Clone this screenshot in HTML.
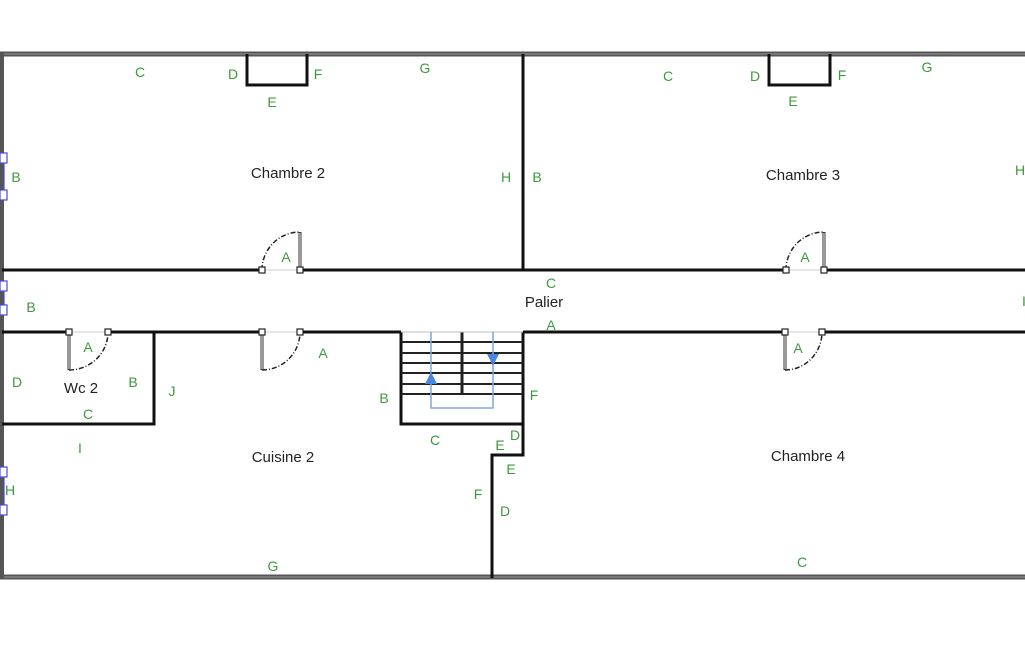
<!DOCTYPE html>
<html><head><meta charset="utf-8"><style>
html,body{margin:0;padding:0;background:#fff;}
svg{display:block}
text{font-family:"Liberation Sans","DejaVu Sans",sans-serif;}
.g{fill:#3c9a3c;font-size:14px;text-anchor:middle}
.r{fill:#222;font-size:15px;text-anchor:middle}
</style></head><body>
<svg width="1025" height="650" viewBox="0 0 1025 650" xmlns="http://www.w3.org/2000/svg">
<rect width="1025" height="650" fill="#fff"/>
<!-- outer walls -->
<line x1="0" y1="54" x2="1025" y2="54" stroke="#555" stroke-width="5"/>
<line x1="0" y1="54" x2="1025" y2="54" stroke="#999" stroke-width="1"/>
<line x1="0" y1="577" x2="1025" y2="577" stroke="#555" stroke-width="5"/>
<line x1="0" y1="577" x2="1025" y2="577" stroke="#999" stroke-width="1"/>
<line x1="2" y1="52" x2="2" y2="579" stroke="#555" stroke-width="4"/>
<g stroke="#111" stroke-width="3" fill="none">
<!-- corridor walls -->
<line x1="2" y1="270" x2="262" y2="270"/>
<line x1="300" y1="270" x2="786" y2="270"/>
<line x1="824" y1="270" x2="1025" y2="270"/>
<line x1="2" y1="332" x2="69" y2="332"/>
<line x1="108" y1="332" x2="262" y2="332"/>
<line x1="300" y1="332" x2="401" y2="332"/>
<line x1="523" y1="332" x2="785" y2="332"/>
<line x1="822" y1="332" x2="1025" y2="332"/>
<line x1="523" y1="54" x2="523" y2="270"/>
<!-- closets -->
<polyline points="247,54 247,85 307,85 307,54"/>
<polyline points="769,54 769,85 830,85 830,54"/>
<!-- wc -->
<polyline points="2,424 154,424 154,332"/>
<!-- stairs -->
<polyline points="401,332 401,424 523,424 523,455 492,455 492,578"/>
<line x1="523" y1="332" x2="523" y2="424"/>
</g>
<g stroke="#222" stroke-width="2">
<line x1="401" y1="342" x2="523" y2="342"/><line x1="401" y1="353" x2="523" y2="353"/>
<line x1="401" y1="363" x2="523" y2="363"/><line x1="401" y1="373" x2="523" y2="373"/>
<line x1="401" y1="384" x2="523" y2="384"/><line x1="401" y1="394" x2="523" y2="394"/>
<line x1="462" y1="332" x2="462" y2="394" stroke-width="3"/>
</g>
<line x1="401" y1="332" x2="523" y2="332" stroke="#bbb" stroke-width="1"/>
<polyline points="431,332 431,408 493,408 493,332" fill="none" stroke="#7ea6e0" stroke-width="1.5"/>
<polygon points="431,372 425,384 437,384" fill="#4a86e0"/>
<polygon points="493,366 487,354 499,354" fill="#4a86e0"/>
<!-- doors -->
<g fill="none">
<g stroke="#ccc" stroke-width="1">
<line x1="262" y1="270" x2="300" y2="270"/><line x1="786" y1="270" x2="824" y2="270"/>
<line x1="69" y1="332" x2="108" y2="332"/><line x1="262" y1="332" x2="300" y2="332"/><line x1="785" y1="332" x2="822" y2="332"/>
</g>
<g stroke="#222" stroke-width="1.5" stroke-dasharray="5,2,1,2">
<path d="M262,270 A38,38 0 0 1 300,232"/>
<path d="M786,270 A38,38 0 0 1 824,232"/>
<path d="M69,370 A39,38 0 0 0 108,332"/>
<path d="M262,370 A38,38 0 0 0 300,332"/>
<path d="M785,370 A37,38 0 0 0 822,332"/>
</g>
<g stroke="#333" stroke-width="3">
<line x1="300" y1="232" x2="300" y2="270"/><line x1="824" y1="232" x2="824" y2="270"/>
<line x1="69" y1="332" x2="69" y2="370"/><line x1="262" y1="332" x2="262" y2="370"/><line x1="785" y1="332" x2="785" y2="370"/>
</g>
<g stroke="#fff" stroke-width="1">
<line x1="300" y1="233" x2="300" y2="269"/><line x1="824" y1="233" x2="824" y2="269"/>
<line x1="69" y1="333" x2="69" y2="369"/><line x1="262" y1="333" x2="262" y2="369"/><line x1="785" y1="333" x2="785" y2="369"/>
</g>
<g stroke="#222" stroke-width="1.2" fill="#fff">
<rect x="259" y="267" width="6" height="6"/><rect x="297" y="267" width="6" height="6"/>
<rect x="783" y="267" width="6" height="6"/><rect x="821" y="267" width="6" height="6"/>
<rect x="66" y="329" width="6" height="6"/><rect x="105" y="329" width="6" height="6"/>
<rect x="259" y="329" width="6" height="6"/><rect x="297" y="329" width="6" height="6"/>
<rect x="782" y="329" width="6" height="6"/><rect x="819" y="329" width="6" height="6"/>
</g>
</g>
<!-- windows -->
<g stroke="#4b4bd0" stroke-width="1.2" fill="#fff">
<line x1="4" y1="158" x2="4" y2="195"/><rect x="0" y="153" width="7" height="10"/><rect x="0" y="190" width="7" height="10"/>
<line x1="4" y1="286" x2="4" y2="310"/><rect x="0" y="281" width="7" height="10"/><rect x="0" y="305" width="7" height="10"/>
<line x1="4" y1="472" x2="4" y2="510"/><rect x="0" y="467" width="7" height="10"/><rect x="0" y="505" width="7" height="10"/>
</g>
<!-- room labels -->
<text class="r" x="288" y="178">Chambre 2</text>
<text class="r" x="803" y="180">Chambre 3</text>
<text class="r" x="544" y="307">Palier</text>
<text class="r" x="81" y="393">Wc 2</text>
<text class="r" x="283" y="462">Cuisine 2</text>
<text class="r" x="808" y="461">Chambre 4</text>
<!-- green letters -->
<g class="g">
<text x="140" y="77">C</text><text x="233" y="79">D</text><text x="318" y="79">F</text><text x="272" y="107">E</text><text x="425" y="73">G</text>
<text x="16" y="182">B</text><text x="506" y="182">H</text><text x="537" y="182">B</text><text x="286" y="262">A</text>
<text x="668" y="81">C</text><text x="755" y="81">D</text><text x="842" y="80">F</text><text x="793" y="106">E</text><text x="927" y="72">G</text>
<text x="1020" y="175">H</text><text x="805" y="262">A</text>
<text x="31" y="312">B</text><text x="551" y="288">C</text><text x="551" y="330">A</text><text x="1024" y="306">I</text>
<text x="88" y="352">A</text><text x="17" y="387">D</text><text x="133" y="387">B</text><text x="88" y="419">C</text><text x="172" y="396">J</text><text x="80" y="453">I</text>
<text x="323" y="358">A</text><text x="384" y="403">B</text><text x="534" y="400">F</text><text x="435" y="445">C</text><text x="515" y="440">D</text><text x="500" y="450">E</text><text x="511" y="474">E</text><text x="478" y="499">F</text><text x="505" y="516">D</text>
<text x="798" y="353">A</text><text x="10" y="495">H</text><text x="273" y="571">G</text><text x="802" y="567">C</text>
</g>
</svg>
</body></html>
